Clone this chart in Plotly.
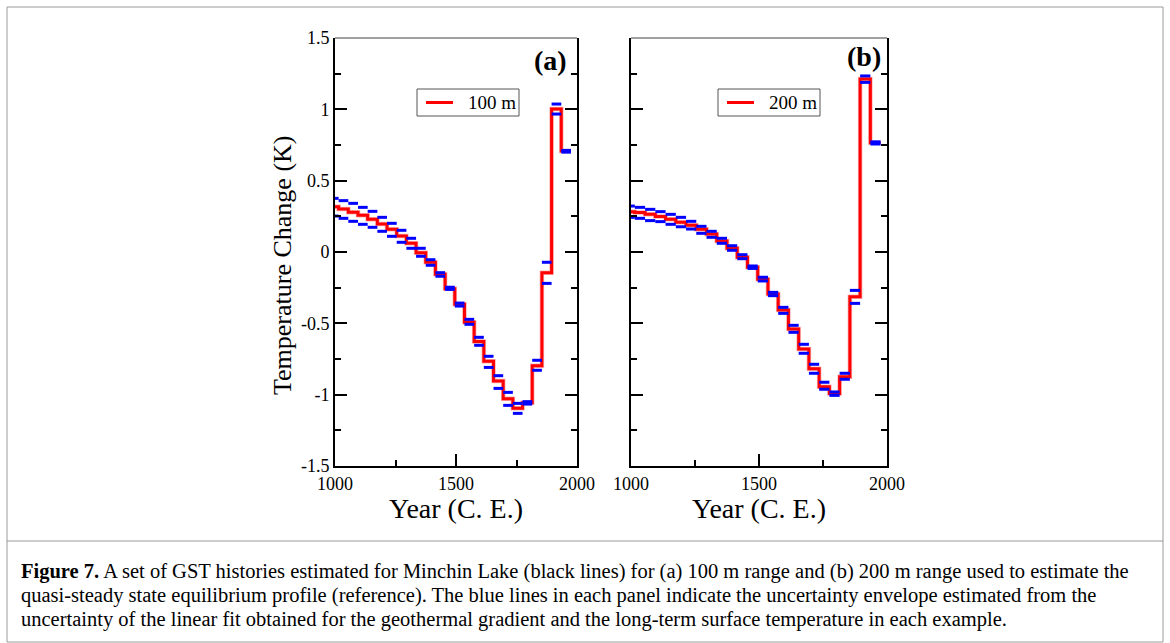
import plotly.graph_objects as go

# ---------------- data ----------------
step_edges = [1000, 1015, 1055, 1095, 1135, 1175, 1215, 1255, 1295, 1335, 1375, 1415,
              1455, 1495, 1535, 1575, 1615, 1655, 1695, 1735, 1775, 1815, 1855, 1895,
              1935, 1975]

gst_100m = [0.318, 0.301, 0.278, 0.257, 0.229, 0.196, 0.159, 0.112, 0.061, -0.005,
            -0.072, -0.156, -0.257, -0.367, -0.493, -0.628, -0.766, -0.904, -1.028,
            -1.096, -1.056, -0.797, -0.145, 1.002, 0.708]
upper_100m = [0.376, 0.360, 0.341, 0.313, 0.285, 0.243, 0.201, 0.152, 0.096, 0.026,
              -0.054, -0.145, -0.247, -0.358, -0.472, -0.598, -0.731, -0.867, -0.984,
              -1.061, -1.049, -0.759, -0.072, 1.037, 0.712]
lower_100m = [0.252, 0.236, 0.215, 0.194, 0.173, 0.145, 0.110, 0.068, 0.026, -0.030,
              -0.093, -0.170, -0.262, -0.379, -0.507, -0.654, -0.809, -0.956, -1.075,
              -1.131, -1.066, -0.829, -0.220, 0.967, 0.700]

gst_200m = [0.283, 0.276, 0.264, 0.248, 0.229, 0.208, 0.187, 0.159, 0.126, 0.077,
            0.026, -0.037, -0.107, -0.191, -0.294, -0.407, -0.540, -0.680, -0.818,
            -0.944, -0.991, -0.874, -0.313, 1.213, 0.765]
upper_200m = [0.322, 0.313, 0.299, 0.283, 0.264, 0.243, 0.215, 0.180, 0.145, 0.096,
              0.044, -0.019, -0.098, -0.177, -0.283, -0.388, -0.514, -0.647, -0.787,
              -0.913, -0.981, -0.850, -0.269, 1.234, 0.772]
lower_200m = [0.243, 0.236, 0.220, 0.213, 0.194, 0.177, 0.161, 0.131, 0.103, 0.061,
              0.012, -0.047, -0.115, -0.203, -0.306, -0.430, -0.563, -0.710, -0.850,
              -0.962, -1.005, -0.892, -0.360, 1.189, 0.757]

x_tickvals = [1000, 1500, 2000]
x_ticktext = ["1000", "1500", "2000"]
x_minor = [1250, 1750]
y_tickvals = [-1.5, -1, -0.5, 0, 0.5, 1, 1.5]
y_ticktext = ["-1.5", "-1", "-0.5", "0", "0.5", "1", "1.5"]
y_minor = [-1.25, -0.75, -0.25, 0.25, 0.75, 1.25]

panel_names = ["100 m", "200 m"]
panel_tags = ["(a)", "(b)"]

caption_lines = [
    "<b>Figure 7.</b> A set of GST histories estimated for Minchin Lake (black lines) for (a) 100 m range and (b) 200 m range used to estimate the",
    "quasi-steady state equilibrium profile (reference). The blue lines in each panel indicate the uncertainty envelope estimated from the",
    "uncertainty of the linear fit obtained for the geothermal gradient and the long-term surface temperature in each example.",
]

# ---------------- layout helpers ----------------
W, H = 1170, 643
FONT = "Liberation Serif"


def px(x):
    return x / W


def py(y):
    return 1 - y / H


def dashes(edges, vals):
    xs, ys = [], []
    for i, v in enumerate(vals):
        xs += [edges[i], edges[i + 1], None]
        ys += [v, v, None]
    return xs, ys


fig = go.Figure()

panels = [
    (gst_100m, upper_100m, lower_100m, "x", "y"),
    (gst_200m, upper_200m, lower_200m, "x2", "y2"),
]

for k, (main, up, lo, xa, ya) in enumerate(panels):
    sx = step_edges
    sy = main + [main[-1]]
    fig.add_trace(go.Scatter(x=sx, y=sy, mode="lines", line=dict(color="rgba(255,0,0,0.3)", width=4.5, shape="hv"),
                             xaxis=xa, yaxis=ya, showlegend=False, hoverinfo="skip"))
    fig.add_trace(go.Scatter(x=sx, y=sy, mode="lines", line=dict(color="#ff0000", width=3, shape="hv"),
                             xaxis=xa, yaxis=ya, name=panel_names[k], showlegend=False))
    for env in (up, lo):
        bx, by = dashes(step_edges, env)
        fig.add_trace(go.Scatter(x=bx, y=by, mode="lines", line=dict(color="#0000ff", width=3),
                                 xaxis=xa, yaxis=ya, showlegend=False, connectgaps=False))

xdom = [[px(335), px(577)], [px(631), px(887)]]
ydom = [py(466), py(38)]

axis_common = dict(showline=True, linecolor="black", linewidth=2, ticks="inside", ticklen=12,
                   tickwidth=2, tickcolor="black", showgrid=False, zeroline=False, automargin=False,
                   tickfont=dict(family=FONT, size=18, color="black"))

for k in range(2):
    sfx = "" if k == 0 else str(k + 1)
    fig.update_layout({
        "xaxis" + sfx: dict(domain=xdom[k], anchor="y" + sfx, range=[1000, 2000],
                            tickvals=x_tickvals, ticktext=x_ticktext, mirror=False,
                            minor=dict(tickvals=x_minor, ticks="inside", ticklen=6, tickwidth=2, tickcolor="black"),
                            **axis_common),
        "yaxis" + sfx: dict(domain=ydom, anchor="x" + sfx, range=[-1.5, 1.5],
                            tickvals=y_tickvals, ticktext=y_ticktext, mirror="ticks",
                            showticklabels=(k == 0),
                            minor=dict(tickvals=y_minor, ticks="inside", ticklen=6, tickwidth=2, tickcolor="black"),
                            **axis_common),
    })

shapes = []
annotations = []
legend_left = [417, 718]
for k in range(2):
    sfx = "" if k == 0 else str(k + 1)
    shapes.append(dict(type="line", xref="x" + sfx + " domain", yref="y" + sfx + " domain",
                       x0=0, x1=1, y0=1, y1=1, line=dict(color="#808080", width=1.5)))
    L = legend_left[k]
    shapes.append(dict(type="rect", xref="paper", yref="paper", x0=px(L), x1=px(L + 102), y0=py(116), y1=py(89),
                       line=dict(color="#555555", width=1), fillcolor="white"))
    shapes.append(dict(type="line", xref="paper", yref="paper", x0=px(L + 9), x1=px(L + 36), y0=py(102.5), y1=py(102.5),
                       line=dict(color="#ff0000", width=3)))
    annotations.append(dict(text=panel_names[k], x=px(L + 49), y=py(102.5), xref="paper", yref="paper",
                            showarrow=False, xanchor="left", yanchor="middle",
                            font=dict(family=FONT, size=19, color="black")))

shapes.append(dict(type="rect", xref="paper", yref="paper", x0=px(7), x1=px(1163), y0=py(642), y1=py(7),
                   line=dict(color="#9a9a9a", width=1)))
shapes.append(dict(type="line", xref="paper", yref="paper", x0=px(7), x1=px(1163), y0=py(541), y1=py(541),
                   line=dict(color="#9a9a9a", width=1)))

annotations += [
    dict(text="Temperature Change (K)", x=px(282), y=py(265), xref="paper", yref="paper",
         textangle=-90, showarrow=False, xanchor="center", yanchor="middle",
         font=dict(family=FONT, size=26, color="black")),
    dict(text="Year (C. E.)", x=px(456), y=py(508), xref="paper", yref="paper", showarrow=False,
         xanchor="center", yanchor="middle", font=dict(family=FONT, size=28, color="black")),
    dict(text="Year (C. E.)", x=px(759), y=py(508), xref="paper", yref="paper", showarrow=False,
         xanchor="center", yanchor="middle", font=dict(family=FONT, size=28, color="black")),
    dict(text="<b>" + panel_tags[0] + "</b>", x=px(550), y=py(60), xref="paper", yref="paper", showarrow=False,
         xanchor="center", yanchor="middle", font=dict(family=FONT, size=28, color="black")),
    dict(text="<b>" + panel_tags[1] + "</b>", x=px(864), y=py(57), xref="paper", yref="paper", showarrow=False,
         xanchor="center", yanchor="middle", font=dict(family=FONT, size=28, color="black")),
]
caption_y = [571, 595, 619]
for line, yc in zip(caption_lines, caption_y):
    annotations.append(dict(text=line, x=px(19), y=py(yc), xref="paper", yref="paper", showarrow=False,
                            xanchor="left", yanchor="middle", align="left",
                            font=dict(family=FONT, size=20.5, color="black")))

fig.update_layout(
    width=W, height=H,
    margin=dict(l=0, r=0, t=0, b=0, autoexpand=False),
    paper_bgcolor="white", plot_bgcolor="white",
    shapes=shapes, annotations=annotations,
    font=dict(family=FONT, color="black"),
    showlegend=False,
)

fig.write_html("out.html", config={"displayModeBar": False},
               post_script="document.body.style.margin='0px';document.body.style.overflow='hidden';")
